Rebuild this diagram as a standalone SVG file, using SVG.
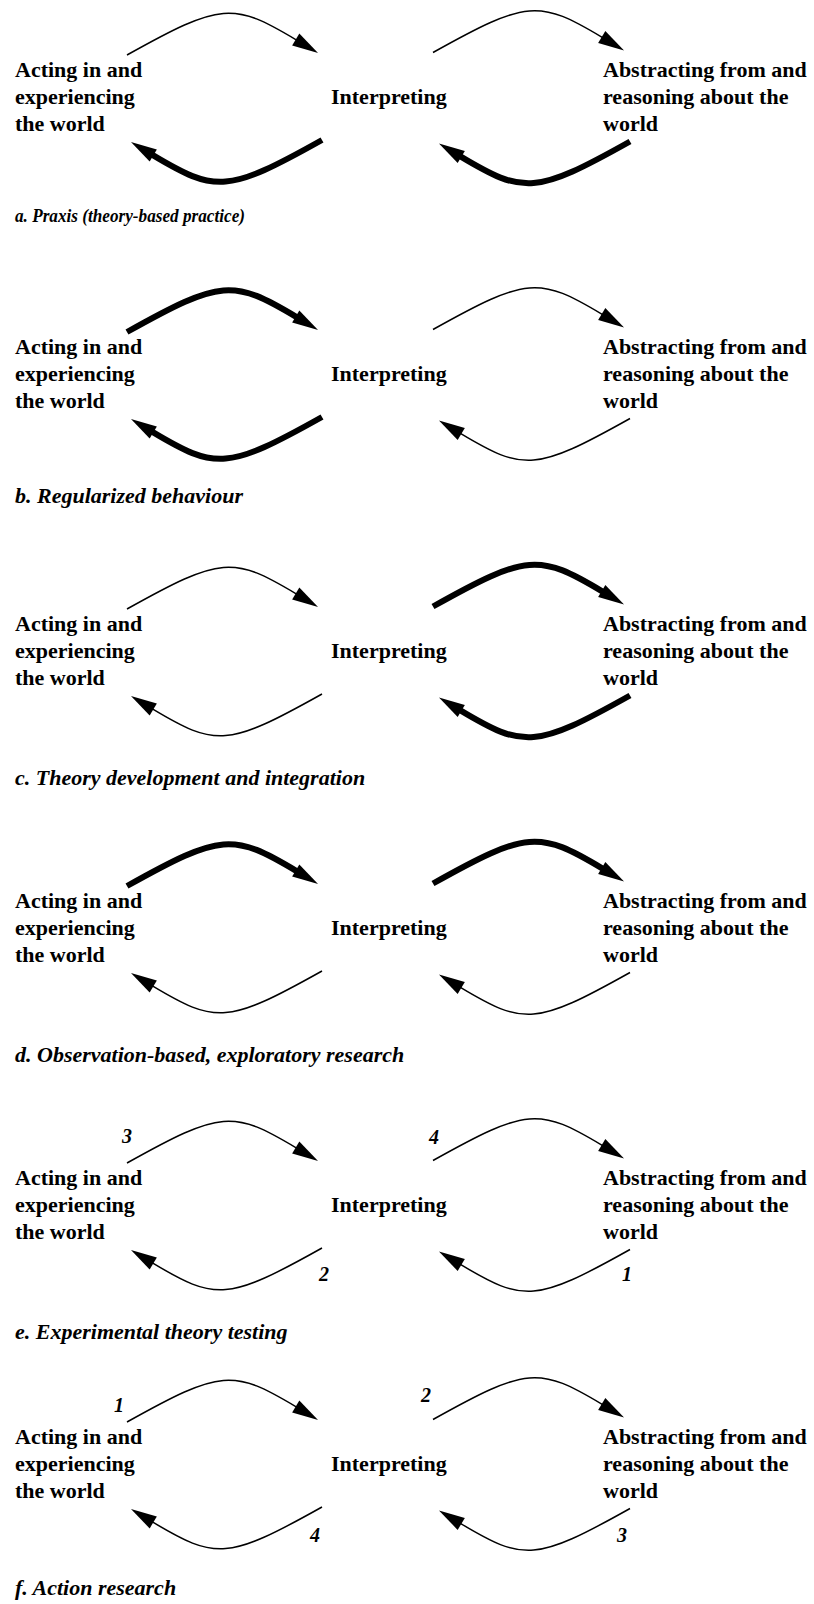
<svg xmlns="http://www.w3.org/2000/svg" width="814" height="1604" viewBox="0 0 814 1604">
<style>
.node{font-family:"Liberation Serif","Times New Roman",serif;font-weight:bold;font-size:22px;fill:#000}
.cap{font-family:"Liberation Serif","Times New Roman",serif;font-weight:bold;font-style:italic;font-size:22px;fill:#000}
.num{font-family:"Liberation Serif","Times New Roman",serif;font-weight:bold;font-style:italic;font-size:20px;fill:#000}
.thin{fill:none;stroke:#000;stroke-width:1.5;marker-end:url(#ah)}
.thick{fill:none;stroke:#000;stroke-width:6;marker-end:url(#ah)}
</style>
<defs>
<marker id="ah" markerUnits="userSpaceOnUse" orient="auto" markerWidth="40" markerHeight="30" viewBox="-5 -15 40 30" refX="0" refY="0" overflow="visible">
<path d="M-1,-7 L25,0 L-1,7 Z" fill="#000"/>
</marker>
</defs>
<rect width="814" height="1604" fill="#fff"/>

<!-- Panel a -->
<g id="panel-a">
<g id="a-acting"><text class="node"><tspan x="15" y="77">Acting in and</tspan><tspan x="15" y="104">experiencing</tspan><tspan x="15" y="131">the world</tspan></text></g>
<g id="a-interpreting"><text class="node" x="331" y="104">Interpreting</text></g>
<g id="a-abstracting"><text class="node"><tspan x="603" y="77">Abstracting from and</tspan><tspan x="603" y="104">reasoning about the</tspan><tspan x="603" y="131">world</tspan></text></g>
<g id="a-connectors">
<path class="thin" d="M127,55 C221.6,2 233,2 296.6,40.1"/>
<path class="thick" d="M127,55 C221.6,2 233,2 296.6,40.1" transform="rotate(180 224.5 97.5)"/>
<path class="thin" d="M127,55 C221.6,2 233,2 296.6,40.1" transform="translate(306,-2.5)"/>
<path class="thick" d="M127,55 C221.6,2 233,2 296.6,40.1" transform="translate(308,1.5) rotate(180 224.5 97.5)"/>
</g>
</g>
<text id="caption-a" class="cap" x="15" y="222" style="font-size:19.5px" textLength="230" lengthAdjust="spacingAndGlyphs">a. Praxis (theory-based practice)</text>

<!-- Panel b -->
<g id="panel-b" transform="translate(0,277)">
<g id="b-acting"><text class="node"><tspan x="15" y="77">Acting in and</tspan><tspan x="15" y="104">experiencing</tspan><tspan x="15" y="131">the world</tspan></text></g>
<g id="b-interpreting"><text class="node" x="331" y="104">Interpreting</text></g>
<g id="b-abstracting"><text class="node"><tspan x="603" y="77">Abstracting from and</tspan><tspan x="603" y="104">reasoning about the</tspan><tspan x="603" y="131">world</tspan></text></g>
<g id="b-connectors">
<path class="thick" d="M127,55 C221.6,2 233,2 296.6,40.1"/>
<path class="thick" d="M127,55 C221.6,2 233,2 296.6,40.1" transform="rotate(180 224.5 97.5)"/>
<path class="thin" d="M127,55 C221.6,2 233,2 296.6,40.1" transform="translate(306,-2.5)"/>
<path class="thin" d="M127,55 C221.6,2 233,2 296.6,40.1" transform="translate(308,1.5) rotate(180 224.5 97.5)"/>
</g>
</g>
<text id="caption-b" class="cap" x="15" y="503">b. Regularized behaviour</text>

<!-- Panel c -->
<g id="panel-c" transform="translate(0,554)">
<g id="c-acting"><text class="node"><tspan x="15" y="77">Acting in and</tspan><tspan x="15" y="104">experiencing</tspan><tspan x="15" y="131">the world</tspan></text></g>
<g id="c-interpreting"><text class="node" x="331" y="104">Interpreting</text></g>
<g id="c-abstracting"><text class="node"><tspan x="603" y="77">Abstracting from and</tspan><tspan x="603" y="104">reasoning about the</tspan><tspan x="603" y="131">world</tspan></text></g>
<g id="c-connectors">
<path class="thin" d="M127,55 C221.6,2 233,2 296.6,40.1"/>
<path class="thin" d="M127,55 C221.6,2 233,2 296.6,40.1" transform="rotate(180 224.5 97.5)"/>
<path class="thick" d="M127,55 C221.6,2 233,2 296.6,40.1" transform="translate(306,-2.5)"/>
<path class="thick" d="M127,55 C221.6,2 233,2 296.6,40.1" transform="translate(308,1.5) rotate(180 224.5 97.5)"/>
</g>
</g>
<text id="caption-c" class="cap" x="15" y="785">c. Theory development and integration</text>

<!-- Panel d -->
<g id="panel-d" transform="translate(0,831)">
<g id="d-acting"><text class="node"><tspan x="15" y="77">Acting in and</tspan><tspan x="15" y="104">experiencing</tspan><tspan x="15" y="131">the world</tspan></text></g>
<g id="d-interpreting"><text class="node" x="331" y="104">Interpreting</text></g>
<g id="d-abstracting"><text class="node"><tspan x="603" y="77">Abstracting from and</tspan><tspan x="603" y="104">reasoning about the</tspan><tspan x="603" y="131">world</tspan></text></g>
<g id="d-connectors">
<path class="thick" d="M127,55 C221.6,2 233,2 296.6,40.1"/>
<path class="thin" d="M127,55 C221.6,2 233,2 296.6,40.1" transform="rotate(180 224.5 97.5)"/>
<path class="thick" d="M127,55 C221.6,2 233,2 296.6,40.1" transform="translate(306,-2.5)"/>
<path class="thin" d="M127,55 C221.6,2 233,2 296.6,40.1" transform="translate(308,1.5) rotate(180 224.5 97.5)"/>
</g>
</g>
<text id="caption-d" class="cap" x="15" y="1062">d. Observation-based, exploratory research</text>

<!-- Panel e -->
<g id="panel-e" transform="translate(0,1108)">
<g id="e-acting"><text class="node"><tspan x="15" y="77">Acting in and</tspan><tspan x="15" y="104">experiencing</tspan><tspan x="15" y="131">the world</tspan></text></g>
<g id="e-interpreting"><text class="node" x="331" y="104">Interpreting</text></g>
<g id="e-abstracting"><text class="node"><tspan x="603" y="77">Abstracting from and</tspan><tspan x="603" y="104">reasoning about the</tspan><tspan x="603" y="131">world</tspan></text></g>
<g id="e-connectors">
<path class="thin" d="M127,55 C221.6,2 233,2 296.6,40.1"/>
<path class="thin" d="M127,55 C221.6,2 233,2 296.6,40.1" transform="rotate(180 224.5 97.5)"/>
<path class="thin" d="M127,55 C221.6,2 233,2 296.6,40.1" transform="translate(306,-2.5)"/>
<path class="thin" d="M127,55 C221.6,2 233,2 296.6,40.1" transform="translate(308,1.5) rotate(180 224.5 97.5)"/>
<text class="num" x="122" y="35">3</text>
<text class="num" x="429" y="36">4</text>
<text class="num" x="319" y="173">2</text>
<text class="num" x="622" y="173">1</text>
</g>
</g>
<text id="caption-e" class="cap" x="15" y="1339">e. Experimental theory testing</text>

<!-- Panel f -->
<g id="panel-f" transform="translate(0,1367)">
<g id="f-acting"><text class="node"><tspan x="15" y="77">Acting in and</tspan><tspan x="15" y="104">experiencing</tspan><tspan x="15" y="131">the world</tspan></text></g>
<g id="f-interpreting"><text class="node" x="331" y="104">Interpreting</text></g>
<g id="f-abstracting"><text class="node"><tspan x="603" y="77">Abstracting from and</tspan><tspan x="603" y="104">reasoning about the</tspan><tspan x="603" y="131">world</tspan></text></g>
<g id="f-connectors">
<path class="thin" d="M127,55 C221.6,2 233,2 296.6,40.1"/>
<path class="thin" d="M127,55 C221.6,2 233,2 296.6,40.1" transform="rotate(180 224.5 97.5)"/>
<path class="thin" d="M127,55 C221.6,2 233,2 296.6,40.1" transform="translate(306,-2.5)"/>
<path class="thin" d="M127,55 C221.6,2 233,2 296.6,40.1" transform="translate(308,1.5) rotate(180 224.5 97.5)"/>
<text class="num" x="114" y="45">1</text>
<text class="num" x="421" y="35">2</text>
<text class="num" x="310" y="175">4</text>
<text class="num" x="617" y="175">3</text>
</g>
</g>
<text id="caption-f" class="cap" x="15" y="1595">f. Action research</text>
</svg>
